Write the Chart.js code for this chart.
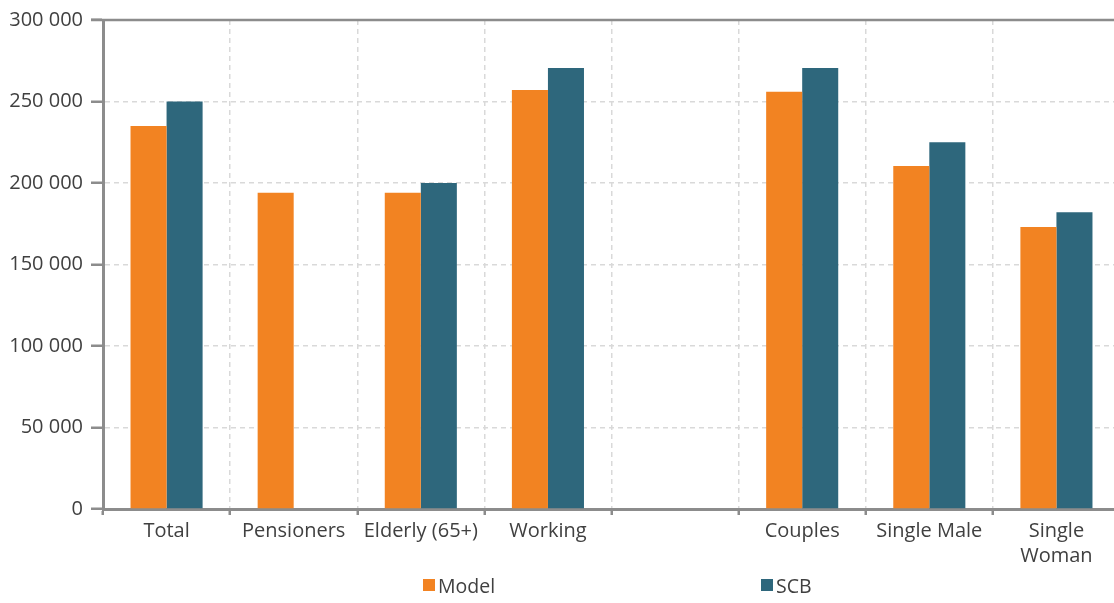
<!DOCTYPE html>
<html>
<head>
<meta charset="utf-8">
<script src="https://cdn.jsdelivr.net/npm/chart.js@4/dist/chart.umd.min.js"></script>
<style>
  html, body { margin: 0; padding: 0; background: #ffffff; overflow: hidden; }
  #wrap { position: relative; width: 1120px; height: 603px; }
  #legend { position: absolute; top: 573px; left: 0; width: 1114px; height: 24px;
            font-family: "Open Sans", sans-serif; font-size: 19.5px; color: #404040; }
  .item { position: absolute; top: 0; display: flex; align-items: center; height: 24px; }
  .box { width: 12px; height: 12px; margin-right: 3px; }
</style>
</head>
<body>
<div id="wrap">
  <canvas id="chart" width="1120" height="603"></canvas>
  <div id="legend"></div>
</div>
<script>
// Income by household group: model estimate vs. SCB statistics
const categories = ["Total", "Pensioners", "Elderly (65+)", "Working", "", "Couples", "Single Male", ["Single", "Woman"]];
const modelValues = [235000, 194000, 194000, 257000, null, 256000, 210500, 173000];
const scbValues   = [250000, null, 200000, 270500, null, 270500, 225000, 182000];
const yTicks = [0, 50000, 100000, 150000, 200000, 250000, 300000];

const seriesNames = ["Model", "SCB"];
const seriesColors = ["#F28322", "#2E677C"];

const FONT = "'Open Sans', sans-serif";
const AXIS_GREY = "#8c8c8c";
const GRID_GREY = "#d9d9d9";
const TEXT = "#404040";

function spaced(v) {
  return String(v).replace(/\B(?=(\d{3})+(?!\d))/g, " ");
}

// solid frame line along the top of the plot area
const topLine = {
  id: "topLine",
  afterDatasetsDraw(chart) {
    const { ctx, chartArea, scales } = chart;
    const y = scales.y.getPixelForValue(300000);
    ctx.save();
    ctx.strokeStyle = AXIS_GREY;
    ctx.lineWidth = 2.5;
    ctx.beginPath();
    ctx.moveTo(chartArea.left - 12, y);
    ctx.lineTo(chartArea.right, y);
    ctx.stroke();
    ctx.restore();
  }
};

new Chart(document.getElementById("chart"), {
  type: "bar",
  data: {
    labels: categories,
    datasets: [
      { label: seriesNames[0], data: modelValues, backgroundColor: seriesColors[0] },
      { label: seriesNames[1], data: scbValues, backgroundColor: seriesColors[1] }
    ]
  },
  options: {
    responsive: false,
    animation: false,
    layout: { padding: { top: 20, right: 0, bottom: 0, left: 0 } },
    datasets: { bar: { categoryPercentage: 0.567, barPercentage: 1.0, borderWidth: 0 } },
    plugins: { legend: { display: false }, tooltip: { enabled: false } },
    scales: {
      x: {
        offset: true,
        grid: { offset: true, color: GRID_GREY, lineWidth: 1.5, tickColor: AXIS_GREY,
                tickWidth: 2.5, tickLength: 6 },
        border: { display: true, color: AXIS_GREY, width: 3, dash: [5, 4] },
        ticks: { color: TEXT, padding: 4, maxRotation: 0, autoSkip: false,
                 font: { family: FONT, size: 20, lineHeight: 1.25 } },
        afterFit(scale) { scale.height = 94; }
      },
      y: {
        min: 0, max: 300000,
        afterBuildTicks(scale) { scale.ticks = yTicks.map(v => ({ value: v })); },
        grid: { color: GRID_GREY, lineWidth: 1.5, tickColor: AXIS_GREY, tickWidth: 2.5,
                tickLength: 12 },
        border: { display: true, color: AXIS_GREY, width: 3, dash: [5, 4] },
        ticks: { color: TEXT, padding: 8, font: { family: FONT, size: 20 },
                 callback: v => spaced(v) },
        afterFit(scale) { scale.width = 103; }
      }
    }
  },
  plugins: [topLine]
});

// legend row below the axis
const legendPos = [423, 761];
const legend = document.getElementById("legend");
seriesNames.forEach((name, i) => {
  const item = document.createElement("div");
  item.className = "item";
  item.style.left = legendPos[i] + "px";
  const box = document.createElement("span");
  box.className = "box";
  box.style.background = seriesColors[i];
  const txt = document.createElement("span");
  txt.textContent = name;
  item.appendChild(box);
  item.appendChild(txt);
  legend.appendChild(item);
});
</script>
</body>
</html>
